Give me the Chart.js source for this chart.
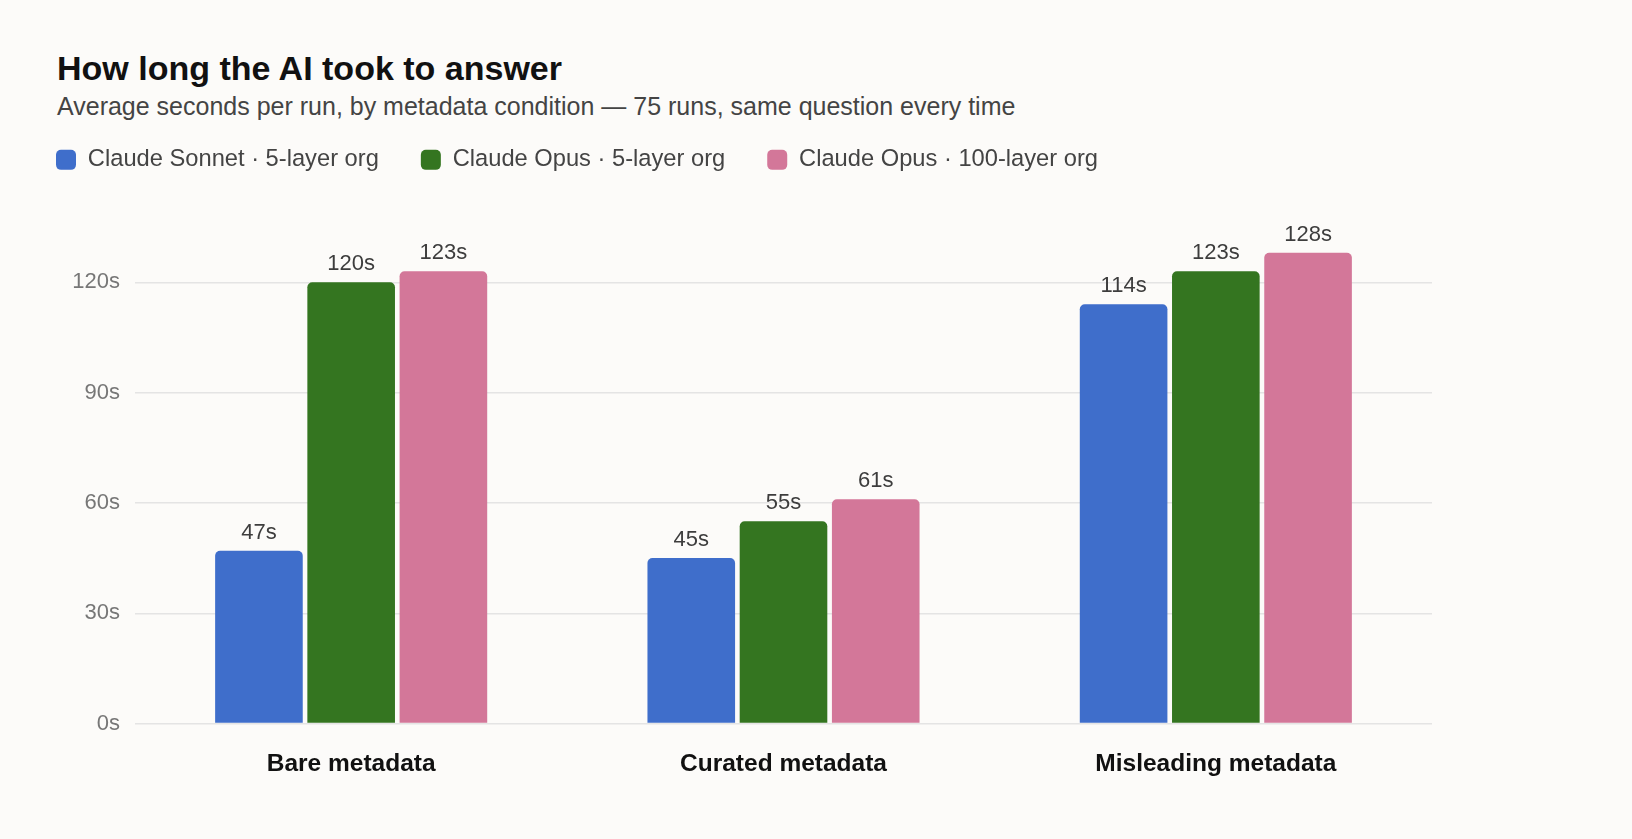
<!DOCTYPE html>
<html>
<head>
<meta charset="utf-8">
<title>How long the AI took to answer</title>
<script src="https://cdn.jsdelivr.net/npm/chart.js@4"></script>
<style>
  html, body { margin: 0; padding: 0; background: #fcfbf9; }
  body { width: 1632px; height: 839px; position: relative; overflow: hidden; font-family: "Liberation Sans", Arial, sans-serif; }
  #title { position: absolute; left: 57px; top: 51px; font-size: 34px; font-weight: bold; color: #111; line-height: 34px; }
  #subtitle { position: absolute; left: 57px; top: 93px; font-size: 25px; color: #444; line-height: 26px; }
  #wrap { position: absolute; left: 0; top: 0; width: 1632px; height: 839px; }
</style>
</head>
<body>
<div id="title">How long the AI took to answer</div>
<div id="subtitle">Average seconds per run, by metadata condition — 75 runs, same question every time</div>
<div id="wrap"><canvas id="chart"></canvas></div>
<script>
// categories and series (average seconds per run)
const conditions = ["Bare metadata", "Curated metadata", "Misleading metadata"];
const seriesNames = ["Claude Sonnet · 5-layer org", "Claude Opus · 5-layer org", "Claude Opus · 100-layer org"];
const sonnet5 = [47, 45, 114];
const opus5 = [120, 55, 123];
const opus100 = [123, 61, 128];
const yTicks = [0, 30, 60, 90, 120];

const colors = ["#3f6ecb", "#347520", "#d37799"];
const font = "'Liberation Sans', Arial, sans-serif";

// draws "47s" etc above each bar
const valueLabels = {
    id: "valueLabels",
    afterDatasetsDraw(chart) {
        let ctx = chart.ctx;
        ctx.save();
        ctx.font = "22px " + font;
        ctx.fillStyle = "#3d3d3d";
        ctx.textAlign = "center";
        ctx.textBaseline = "bottom";
        chart.data.datasets.forEach((ds, i) => {
            chart.getDatasetMeta(i).data.forEach((bar, j) => {
                ctx.fillText(ds.data[j] + "s", bar.x, bar.y - 7);
            });
        });
        ctx.restore();
    }
};

// extra room between legend and plot
const legendGap = {
    id: "legendGap",
    beforeInit(chart) {
        let fit = chart.legend.fit;
        chart.legend.fit = function () {
            fit.bind(chart.legend)();
            this.height += 27;
        };
    }
};

let ctx = document.getElementById("chart").getContext("2d");

new Chart(ctx, {
    type: "bar",
    data: {
        labels: conditions,
        datasets: [sonnet5, opus5, opus100].map((vals, i) => ({
            label: seriesNames[i],
            data: vals,
            backgroundColor: colors[i],
            borderRadius: { topLeft: 5, topRight: 5 },
            borderSkipped: "start",
            categoryPercentage: 0.64,
            barPercentage: 0.95
        }))
    },
    options: {
        responsive: true,
        maintainAspectRatio: false,
        animation: false,
        layout: { padding: { left: 14, right: 200, top: 106, bottom: 43 } },
        plugins: {
            legend: {
                position: "top",
                align: "start",
                labels: {
                    boxWidth: 20,
                    boxHeight: 20,
                    useBorderRadius: true,
                    borderRadius: 5,
                    padding: 42,
                    color: "#444",
                    font: { family: font, size: 23.7 }
                }
            },
            tooltip: { enabled: false }
        },
        scales: {
            x: {
                grid: { display: false },
                border: { display: false },
                ticks: {
                    padding: 17.5,
                    color: "#111",
                    font: { family: font, size: 24.5, weight: "bold" }
                }
            },
            y: {
                min: 0,
                max: 140,
                afterFit(scale) { scale.width = 121; },
                afterBuildTicks(scale) { scale.ticks = yTicks.map(v => ({ value: v })); },
                grid: { color: "#e4e4e4", lineWidth: 1.5, drawTicks: false },
                border: { display: false },
                ticks: {
                    padding: 15,
                    color: "#777",
                    font: { family: font, size: 22 },
                    callback: v => v + "s"
                }
            }
        }
    },
    plugins: [valueLabels, legendGap]
});
</script>
</body>
</html>
